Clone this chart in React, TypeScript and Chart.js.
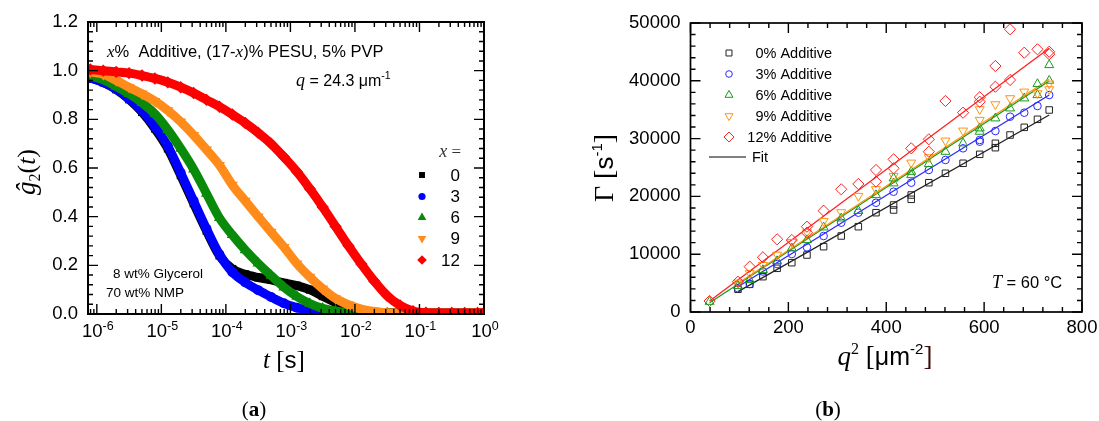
import React, { useEffect, useRef } from 'react';
import { Chart, registerables } from 'chart.js';
Chart.register(...registerables);

// ---------- Panel (a): normalized correlation functions ----------
const LOG_T = [-6.1, -5.9, -5.7, -5.5, -5.3, -5.1, -4.9, -4.7, -4.5, -4.3, -4.1, -3.9, -3.7, -3.5, -3.3, -3.1,
  -2.9, -2.7, -2.5, -2.3, -2.1, -1.9, -1.7, -1.5, -1.3, -1.1, -0.9, -0.7, -0.5, -0.3, -0.1, 0];
const G2_X0 = [0.972, 0.952, 0.923, 0.882, 0.83, 0.762, 0.68, 0.57, 0.455, 0.342, 0.24, 0.185, 0.163, 0.15, 0.14, 0.128,
  0.117, 0.1, 0.073, 0.047, 0.028, 0.015, 0.008, 0.005, 0.004, 0.004, 0.004, 0.004, 0.004, 0.004, 0.004, 0.004];
const G2_X3 = [0.97, 0.952, 0.925, 0.885, 0.835, 0.77, 0.69, 0.58, 0.465, 0.35, 0.245, 0.172, 0.13, 0.098, 0.07, 0.044,
  0.026, 0.014, 0.007, 0.004, 0.004, 0.004, 0.004, 0.004, 0.004, 0.004, 0.004, 0.004, 0.004, 0.004, 0.004, 0.004];
const G2_X6 = [0.978, 0.962, 0.935, 0.905, 0.868, 0.822, 0.757, 0.68, 0.595, 0.495, 0.395, 0.325, 0.263, 0.208, 0.158, 0.11,
  0.072, 0.043, 0.023, 0.012, 0.006, 0.004, 0.004, 0.004, 0.004, 0.004, 0.004, 0.004, 0.004, 0.004, 0.004, 0.004];
const G2_X9 = [0.995, 0.985, 0.96, 0.932, 0.905, 0.875, 0.836, 0.79, 0.735, 0.675, 0.612, 0.53, 0.465, 0.4, 0.337, 0.275,
  0.207, 0.152, 0.104, 0.064, 0.038, 0.02, 0.01, 0.005, 0.004, 0.004, 0.004, 0.004, 0.004, 0.004, 0.004, 0.004];
const G2_X12 = [1.005, 1.0, 0.995, 0.99, 0.98, 0.968, 0.952, 0.932, 0.908, 0.88, 0.852, 0.82, 0.785, 0.745, 0.7, 0.645,
  0.585, 0.515, 0.44, 0.36, 0.28, 0.205, 0.135, 0.075, 0.035, 0.012, 0.005, 0.004, 0.004, 0.004, 0.004, 0.004];
const X_LABELS = ['0', '3', '6', '9', '12'];
const T_DECADES = [-6, -5, -4, -3, -2, -1, 0];

// ---------- Panel (b): decay rate vs q^2 ----------
const Q2_A0 = [97, 121, 148, 177, 207, 238, 272, 308, 343, 379, 415, 415, 451, 451, 487, 521, 557, 591, 623, 623, 653, 682, 709, 733];
const GAMMA_A0 = [3930, 4790, 6110, 7560, 8530, 9860, 11300, 13150, 14760, 17180, 18510, 17650, 20240, 19500, 22370, 24000, 25730, 27280, 29190, 28430, 30620, 31950, 33340, 34950];
const Q2_A3 = [97, 121, 148, 177, 207, 238, 272, 308, 343, 379, 415, 451, 487, 521, 557, 591, 591, 623, 653, 682, 709, 733];
const GAMMA_A3 = [4100, 4840, 7000, 8300, 10030, 11190, 13150, 15450, 17180, 18900, 20810, 22370, 24570, 26300, 28320, 29760, 29460, 31310, 33790, 34480, 35640, 37540];
const Q2_A6 = [39, 97, 121, 148, 177, 207, 238, 272, 308, 343, 379, 415, 415, 451, 451, 487, 521, 557, 591, 591, 623, 653, 682, 709, 709, 733, 733];
const GAMMA_A6 = [1780, 4500, 5540, 7270, 8820, 11020, 12460, 14650, 16200, 17500, 20240, 23130, 22270, 24270, 23700, 25610, 27730, 29190, 31780, 31200, 33510, 35240, 36970, 39450, 37540, 42730, 40020];
const Q2_A9 = [97, 121, 148, 177, 207, 238, 272, 308, 343, 379, 415, 451, 487, 521, 557, 591, 591, 623, 653, 682, 709, 733, 733];
const GAMMA_A9 = [5070, 6700, 8130, 9900, 12100, 13800, 15740, 17250, 20070, 21230, 23530, 25830, 26760, 29640, 31370, 35070, 33220, 35930, 36970, 38110, 37840, 38530, 39500];
const Q2_A12 = [39, 97, 121, 148, 177, 207, 238, 238, 272, 308, 343, 379, 379, 415, 415, 451, 487, 487, 521, 557, 591, 591, 623, 623, 653, 653, 682, 709, 733, 733];
const GAMMA_A12 = [1900, 5240, 7840, 9460, 12580, 12460, 14760, 13720, 17530, 21230, 22150, 24570, 22550, 26420, 24860, 28320, 29880, 27730, 36510, 34480, 37150, 36380, 42560, 38980, 48910, 40140, 44860, 45450, 45030, 44600];
const FIT_A0 = [[97, 3520], [733, 34080]];
const FIT_A3 = [[97, 4380], [733, 37540]];
const FIT_A6 = [[39, 1610], [733, 39970]];
const FIT_A9 = [[97, 4960], [733, 40260]];
const FIT_A12 = [[39, 1900], [733, 45620]];
const B_LABELS = ['0% Additive', '3% Additive', '6% Additive', '9% Additive', '12% Additive'];

const SANS = '"Liberation Sans", Arial, sans-serif';
const SERIF = '"Liberation Serif", "Times New Roman", serif';

type Run = { text: string; font: string; dy?: number; color?: string };

function drawRuns(ctx: CanvasRenderingContext2D, x: number, y: number, runs: Run[], align: 'left' | 'center' | 'right' = 'left') {
  ctx.save();
  ctx.textBaseline = 'alphabetic';
  ctx.textAlign = 'left';
  let total = 0;
  const widths = runs.map((r) => {
    ctx.font = r.font;
    const w = ctx.measureText(r.text).width;
    total += w;
    return w;
  });
  let cx = align === 'center' ? x - total / 2 : align === 'right' ? x - total : x;
  runs.forEach((r, i) => {
    ctx.font = r.font;
    ctx.fillStyle = r.color || '#000';
    ctx.fillText(r.text, cx, y + (r.dy || 0));
    cx += widths[i];
  });
  ctx.restore();
}

function drawMarker(ctx: CanvasRenderingContext2D, style: string, x: number, y: number, r: number, color: string, filled: boolean) {
  ctx.save();
  ctx.beginPath();
  if (style === 'rect') {
    const s = r * Math.SQRT1_2;
    ctx.rect(x - s, y - s, 2 * s, 2 * s);
  } else if (style === 'circle') {
    ctx.arc(x, y, r, 0, Math.PI * 2);
  } else if (style === 'triangle' || style === 'triangleDown') {
    const off = style === 'triangle' ? 0 : Math.PI;
    for (let i = 0; i < 3; i++) {
      const a = off + (i * 2 * Math.PI) / 3;
      const px = x + Math.sin(a) * r;
      const py = y - Math.cos(a) * r;
      if (i === 0) ctx.moveTo(px, py); else ctx.lineTo(px, py);
    }
    ctx.closePath();
  } else {
    ctx.moveTo(x, y - r);
    ctx.lineTo(x + r, y);
    ctx.lineTo(x, y + r);
    ctx.lineTo(x - r, y);
    ctx.closePath();
  }
  if (filled) {
    ctx.fillStyle = color;
    ctx.fill();
  } else {
    ctx.strokeStyle = color;
    ctx.lineWidth = 1;
    ctx.stroke();
  }
  ctx.restore();
}

type TickSpec = { v: number; major: boolean };

function logTickList(min: number, max: number): TickSpec[] {
  const out: TickSpec[] = [];
  for (let e = -7; e <= 0; e++) {
    for (let k = 1; k <= 9; k++) {
      const v = k * Math.pow(10, e);
      if (v >= min * 0.999 && v <= max * 1.001) out.push({ v, major: k === 1 });
    }
  }
  return out;
}

function linTickList(min: number, max: number, minor: number, every: number): TickSpec[] {
  const out: TickSpec[] = [];
  const n = Math.round((max - min) / minor);
  for (let i = 0; i <= n; i++) out.push({ v: min + i * minor, major: i % every === 0 });
  return out;
}

function frameAndTicks(chart: any, xt: TickSpec[], yt: TickSpec[], frameW: number, majorLen: number, minorLen: number) {
  const { ctx, chartArea: a, scales } = chart;
  ctx.save();
  ctx.strokeStyle = '#000';
  ctx.lineWidth = 1.4;
  ctx.beginPath();
  xt.forEach((t) => {
    const px = scales.x.getPixelForValue(t.v);
    const len = t.major ? majorLen : minorLen;
    ctx.moveTo(px, a.bottom);
    ctx.lineTo(px, a.bottom - len);
    ctx.moveTo(px, a.top);
    ctx.lineTo(px, a.top + len);
  });
  yt.forEach((t) => {
    const py = scales.y.getPixelForValue(t.v);
    const len = t.major ? majorLen : minorLen;
    ctx.moveTo(a.left, py);
    ctx.lineTo(a.left + len, py);
    ctx.moveTo(a.right, py);
    ctx.lineTo(a.right - len, py);
  });
  ctx.stroke();
  ctx.lineWidth = frameW;
  ctx.strokeRect(a.left, a.top, a.right - a.left, a.bottom - a.top);
  ctx.restore();
}

const LEFT_SERIES = [
  { vals: G2_X0, color: '#000000', style: 'rect', r: 4.2, rot: 0, order: 4 },
  { vals: G2_X3, color: '#0000ff', style: 'circle', r: 3.6, rot: 0, order: 3 },
  { vals: G2_X6, color: '#0a8a0a', style: 'triangle', r: 5, rot: 0, order: 2 },
  { vals: G2_X9, color: '#ff8c1a', style: 'triangleDown', r: 5, rot: 180, order: 1 },
  { vals: G2_X12, color: '#ff0000', style: 'rectRot', r: 4.8, rot: 0, order: 0 },
];

const RIGHT_SERIES = [
  { xs: Q2_A0, ys: GAMMA_A0, fit: FIT_A0, color: '#222222', style: 'rect', r: 4.6, rot: 0 },
  { xs: Q2_A3, ys: GAMMA_A3, fit: FIT_A3, color: '#2a2aff', style: 'circle', r: 3.8, rot: 0 },
  { xs: Q2_A6, ys: GAMMA_A6, fit: FIT_A6, color: '#1a9a1a', style: 'triangle', r: 5.2, rot: 0 },
  { xs: Q2_A9, ys: GAMMA_A9, fit: FIT_A9, color: '#ff9414', style: 'triangleDown', r: 5.2, rot: 180 },
  { xs: Q2_A12, ys: GAMMA_A12, fit: FIT_A12, color: '#ff2020', style: 'rectRot', r: 5.6, rot: 0 },
];

function leftConfig(): any {
  const X_MIN = 7.3e-7;
  const X_MAX = 1;
  const xt = logTickList(X_MIN, X_MAX);
  const yt = linTickList(0, 1.2, 0.04, 5);
  const plugin = {
    id: 'leftDeco',
    afterDatasetsDraw(chart: any) {
      frameAndTicks(chart, xt, yt, 2, 10, 5);
    },
    afterDraw(chart: any) {
      const ctx: CanvasRenderingContext2D = chart.ctx;
      // log-axis tick labels with real superscripts
      T_DECADES.forEach((e) => {
        const px = chart.scales.x.getPixelForValue(Math.pow(10, e));
        drawRuns(ctx, px + 1, 337, [
          { text: '10', font: `18.5px ${SANS}` },
          { text: String(e), font: `12.5px ${SANS}`, dy: -7 },
        ], 'center');
      });
      // composition line
      drawRuns(ctx, 107, 57, [
        { text: 'x', font: `italic 17px ${SERIF}` },
        { text: '%  Additive, (17-', font: `16.5px ${SANS}` },
        { text: 'x', font: `italic 17px ${SERIF}` },
        { text: ')% PESU, 5% PVP', font: `16.5px ${SANS}` },
      ]);
      drawRuns(ctx, 296, 86, [
        { text: 'q', font: `italic 18px ${SERIF}` },
        { text: ' = 24.3 μm', font: `16px ${SANS}` },
        { text: '-1', font: `10.5px ${SANS}`, dy: -7 },
      ]);
      // legend
      drawRuns(ctx, 461, 157, [
        { text: 'x', font: `italic 18px ${SERIF}`, color: '#333' },
        { text: ' =', font: `17px ${SERIF}`, color: '#333' },
      ], 'right');
      const ly = [175, 196.5, 217.5, 238.5, 260];
      LEFT_SERIES.forEach((s, i) => {
        drawMarker(ctx, s.style, 422, ly[i], s.r, s.color, true);
        ctx.save();
        ctx.font = `17px ${SANS}`;
        ctx.fillStyle = '#000';
        ctx.textAlign = 'right';
        ctx.textBaseline = 'middle';
        ctx.fillText(X_LABELS[i], 460, ly[i] + 1);
        ctx.restore();
      });
      // solvent notes
      drawRuns(ctx, 113, 278, [{ text: '8 wt% Glycerol', font: `13.5px ${SANS}` }]);
      drawRuns(ctx, 106, 297, [{ text: '70 wt% NMP', font: `13.5px ${SANS}` }]);
      // axis titles
      ctx.save();
      ctx.translate(27, 172);
      ctx.rotate(-Math.PI / 2);
      drawRuns(ctx, 0, 8, [
        { text: 'ĝ', font: `italic 27px ${SERIF}` },
        { text: '2', font: `16px ${SERIF}`, dy: 5 },
        { text: '(', font: `26px ${SERIF}` },
        { text: 't', font: `italic 26px ${SERIF}` },
        { text: ')', font: `26px ${SERIF}` },
      ], 'center');
      ctx.restore();
      drawRuns(ctx, 284, 368, [
        { text: 't', font: `italic 25px ${SERIF}` },
        { text: ' [', font: `25px ${SERIF}` },
        { text: 's', font: `24px ${SANS}` },
        { text: ']', font: `25px ${SERIF}` },
      ], 'center');
      drawRuns(ctx, 254, 416, [
        { text: '(', font: `21px ${SERIF}` },
        { text: 'a', font: `bold 21px ${SERIF}` },
        { text: ')', font: `21px ${SERIF}` },
      ], 'center');
    },
  };
  return {
    type: 'scatter',
    data: {
      datasets: LEFT_SERIES.map((s, i) => ({
        label: X_LABELS[i],
        data: LOG_T.map((lt, j) => ({ x: Math.pow(10, lt), y: s.vals[j] })),
        showLine: true,
        borderColor: s.color,
        backgroundColor: s.color,
        borderWidth: 9,
        cubicInterpolationMode: 'monotone',
        pointStyle: s.style === 'triangleDown' ? 'triangle' : s.style,
        pointRotation: s.rot,
        pointRadius: s.r + 1.4,
        pointBorderWidth: 0,
        pointBackgroundColor: s.color,
        order: s.order,
        clip: 0,
      })),
    },
    options: {
      responsive: false,
      animation: false,
      devicePixelRatio: 1,
      events: [],
      layout: { padding: { left: 0, right: 66, top: 22, bottom: 0 } },
      plugins: { legend: { display: false }, tooltip: { enabled: false } },
      scales: {
        x: {
          type: 'logarithmic',
          min: X_MIN,
          max: X_MAX,
          grid: { display: false, drawTicks: false },
          border: { display: false },
          ticks: { display: false },
          afterFit: (s: any) => {
            s.height = 107;
            s.paddingLeft = 0;
            s.paddingRight = 0;
          },
        },
        y: {
          type: 'linear',
          min: 0,
          max: 1.2,
          grid: { display: false, drawTicks: false },
          border: { display: false },
          ticks: {
            stepSize: 0.2,
            padding: 10,
            color: '#000',
            font: { family: SANS, size: 18.5 },
            callback: (v: any) => Number(v).toFixed(1),
          },
          afterFit: (s: any) => {
            s.width = 88;
            s.paddingTop = 0;
            s.paddingBottom = 0;
          },
        },
      },
    },
    plugins: [plugin],
  };
}

function rightConfig(): any {
  const xt = linTickList(0, 800, 40, 5);
  const yt = linTickList(0, 50000, 2000, 5);
  const plugin = {
    id: 'rightDeco',
    afterDatasetsDraw(chart: any) {
      frameAndTicks(chart, xt, yt, 1.7, 10, 5);
    },
    afterDraw(chart: any) {
      const ctx: CanvasRenderingContext2D = chart.ctx;
      const ly = [53, 74, 95, 116, 137];
      RIGHT_SERIES.forEach((s, i) => {
        drawMarker(ctx, s.style, 179, ly[i], s.style === 'rect' ? 4.2 : s.style === 'circle' ? 3.3 : s.r - 0.6, s.color, false);
        ctx.save();
        ctx.font = `14.5px ${SANS}`;
        ctx.fillStyle = '#000';
        ctx.textAlign = 'right';
        ctx.textBaseline = 'middle';
        ctx.fillText(B_LABELS[i], 282, ly[i] + 1);
        ctx.restore();
      });
      ctx.save();
      ctx.strokeStyle = '#000';
      ctx.lineWidth = 1;
      ctx.beginPath();
      ctx.moveTo(159, 157);
      ctx.lineTo(196, 157);
      ctx.stroke();
      ctx.font = `14.5px ${SANS}`;
      ctx.fillStyle = '#000';
      ctx.textBaseline = 'middle';
      ctx.fillText('Fit', 202, 158);
      ctx.restore();
      drawRuns(ctx, 442, 288, [
        { text: 'T', font: `italic 18px ${SERIF}` },
        { text: ' = 60 °C', font: `16.5px ${SANS}` },
      ]);
      ctx.save();
      ctx.translate(53, 168);
      ctx.rotate(-Math.PI / 2);
      drawRuns(ctx, 0, 10, [
        { text: 'Γ', font: `28px ${SERIF}` },
        { text: ' [', font: `28px ${SERIF}` },
        { text: 's', font: `26px ${SANS}` },
        { text: '-1', font: `15px ${SANS}`, dy: -11 },
        { text: ']', font: `28px ${SERIF}` },
      ], 'center');
      ctx.restore();
      drawRuns(ctx, 335, 365, [
        { text: 'q', font: `italic 27px ${SERIF}` },
        { text: '2', font: `16px ${SERIF}`, dy: -11 },
        { text: ' [', font: `27px ${SERIF}` },
        { text: 'μm', font: `25px ${SANS}` },
        { text: '-2', font: `15px ${SANS}`, dy: -11 },
        { text: ']', font: `27px ${SERIF}`, color: '#3a0a0a' },
      ], 'center');
      drawRuns(ctx, 278, 416, [
        { text: '(', font: `21px ${SERIF}` },
        { text: 'b', font: `bold 21px ${SERIF}` },
        { text: ')', font: `21px ${SERIF}` },
      ], 'center');
    },
  };
  const datasets: any[] = [];
  RIGHT_SERIES.forEach((s, i) => {
    datasets.push({
      label: B_LABELS[i],
      data: s.xs.map((x, j) => ({ x, y: s.ys[j] })),
      showLine: false,
      pointStyle: s.style === 'triangleDown' ? 'triangle' : s.style,
      pointRotation: s.rot,
      pointRadius: s.r,
      pointBorderWidth: 1,
      pointBorderColor: s.color,
      pointBackgroundColor: 'rgba(0,0,0,0)',
      borderColor: s.color,
      backgroundColor: 'rgba(0,0,0,0)',
      order: 10 - i,
    });
    datasets.push({
      label: B_LABELS[i] + ' fit',
      data: s.fit.map(([x, y]) => ({ x, y })),
      showLine: true,
      borderColor: s.color,
      borderWidth: 1.3,
      pointRadius: 0,
      order: 20 - i,
    });
  });
  return {
    type: 'scatter',
    data: { datasets },
    options: {
      responsive: false,
      animation: false,
      devicePixelRatio: 1,
      events: [],
      layout: { padding: { left: 0, right: 17, top: 23, bottom: 0 } },
      plugins: { legend: { display: false }, tooltip: { enabled: false } },
      scales: {
        x: {
          type: 'linear',
          min: 0,
          max: 800,
          grid: { display: false, drawTicks: false },
          border: { display: false },
          ticks: {
            stepSize: 200,
            maxRotation: 0,
            padding: 5,
            color: '#000',
            font: { family: SANS, size: 18.5 },
            callback: (v: any) => String(v),
          },
          afterFit: (s: any) => {
            s.height = 109;
            s.paddingLeft = 0;
            s.paddingRight = 0;
          },
        },
        y: {
          type: 'linear',
          min: 0,
          max: 50000,
          grid: { display: false, drawTicks: false },
          border: { display: false },
          ticks: {
            stepSize: 10000,
            padding: 10,
            color: '#000',
            font: { family: SANS, size: 18.5 },
            callback: (v: any) => String(v),
          },
          afterFit: (s: any) => {
            s.width = 140.5;
            s.paddingTop = 0;
            s.paddingBottom = 0;
          },
        },
      },
    },
    plugins: [plugin],
  };
}

export default function App() {
  const leftRef = useRef<HTMLCanvasElement>(null);
  const rightRef = useRef<HTMLCanvasElement>(null);
  useEffect(() => {
    document.body.style.margin = '0';
    const c1 = new Chart(leftRef.current as HTMLCanvasElement, leftConfig());
    const c2 = new Chart(rightRef.current as HTMLCanvasElement, rightConfig());
    return () => {
      c1.destroy();
      c2.destroy();
    };
  }, []);
  return (
    <div style={{ position: 'fixed', left: 0, top: 0, width: 1099, height: 421, background: '#fff', overflow: 'hidden' }}>
      <canvas ref={leftRef} width={550} height={421} style={{ position: 'absolute', left: 0, top: 0, width: 550, height: 421 }} />
      <canvas ref={rightRef} width={549} height={421} style={{ position: 'absolute', left: 550, top: 0, width: 549, height: 421 }} />
    </div>
  );
}
